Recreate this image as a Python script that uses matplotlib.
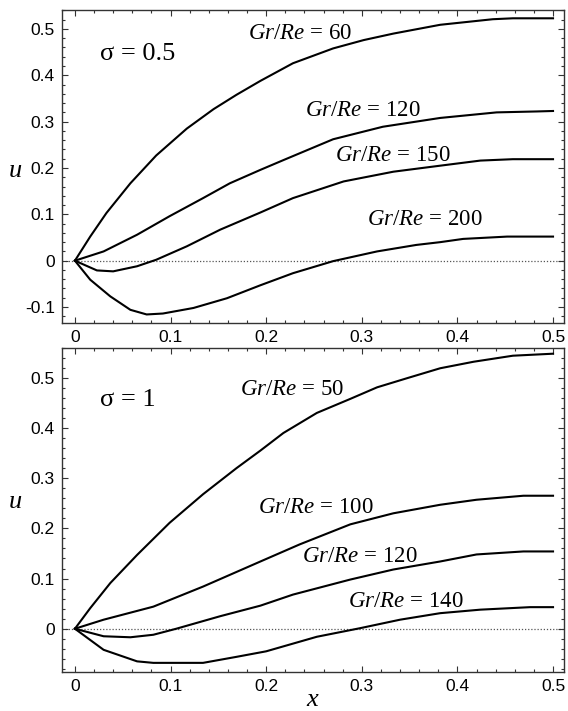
import matplotlib
matplotlib.use("Agg")
import matplotlib.pyplot as plt
from matplotlib.ticker import MultipleLocator, FuncFormatter

plt.rcParams["mathtext.fontset"] = "custom"
plt.rcParams["mathtext.rm"] = "Liberation Serif"
plt.rcParams["mathtext.it"] = "Liberation Serif:italic"
plt.rcParams["font.family"] = "Liberation Sans"

# --- sigma = 0.5 panel ---
x_a60 = [0, 0.016, 0.033, 0.058, 0.085, 0.117, 0.145, 0.169, 0.194, 0.228, 0.27, 0.302,
         0.333, 0.382, 0.437, 0.458, 0.5]
u_a60 = [0, 0.052, 0.103, 0.167, 0.227, 0.285, 0.327, 0.358, 0.388, 0.426, 0.458, 0.476,
         0.49, 0.509, 0.521, 0.523, 0.523]
x_a120 = [0, 0.03, 0.065, 0.099, 0.134, 0.162, 0.194, 0.218, 0.27, 0.322, 0.382, 0.441,
          0.483, 0.5]
u_a120 = [0, 0.02, 0.056, 0.096, 0.135, 0.167, 0.196, 0.217, 0.262, 0.289, 0.308, 0.32,
          0.322, 0.323]
x_a150 = [0, 0.023, 0.04, 0.065, 0.085, 0.117, 0.152, 0.194, 0.228, 0.281, 0.333, 0.382,
          0.424, 0.458, 0.5]
u_a150 = [0, -0.021, -0.023, -0.012, 0.002, 0.031, 0.067, 0.104, 0.135, 0.171, 0.192, 0.205,
          0.216, 0.219, 0.219]
x_a200 = [0, 0.016, 0.037, 0.058, 0.075, 0.092, 0.124, 0.159, 0.194, 0.228, 0.27, 0.316,
          0.357, 0.382, 0.406, 0.452, 0.5]
u_a200 = [0, -0.041, -0.077, -0.106, -0.116, -0.114, -0.102, -0.081, -0.053, -0.027, -0.001,
          0.02, 0.034, 0.04, 0.047, 0.052, 0.052]

# --- sigma = 1 panel ---
x_b50 = [0, 0.016, 0.037, 0.065, 0.099, 0.134, 0.169, 0.194, 0.218, 0.253, 0.288, 0.316,
         0.347, 0.382, 0.417, 0.458, 0.5]
u_b50 = [0, 0.041, 0.091, 0.147, 0.211, 0.268, 0.32, 0.355, 0.39, 0.43, 0.458, 0.481,
         0.499, 0.519, 0.532, 0.544, 0.548]
x_b100 = [0, 0.03, 0.082, 0.134, 0.194, 0.235, 0.288, 0.333, 0.382, 0.42, 0.469, 0.5]
u_b100 = [0, 0.018, 0.044, 0.084, 0.134, 0.168, 0.208, 0.23, 0.247, 0.257, 0.265, 0.265]
x_b120 = [0, 0.03, 0.058, 0.082, 0.106, 0.152, 0.194, 0.228, 0.288, 0.333, 0.382, 0.42,
          0.469, 0.5]
u_b120 = [0, -0.015, -0.017, -0.012, 0, 0.025, 0.046, 0.068, 0.098, 0.118, 0.134, 0.148,
          0.154, 0.154]
x_b140 = [0, 0.03, 0.065, 0.082, 0.099, 0.134, 0.169, 0.2, 0.253, 0.298, 0.34, 0.382,
          0.424, 0.476, 0.5]
u_b140 = [0, -0.042, -0.065, -0.068, -0.068, -0.068, -0.056, -0.045, -0.016, 0.001, 0.018,
          0.031, 0.038, 0.043, 0.043]

top_curves = [(x_a60, u_a60), (x_a120, u_a120), (x_a150, u_a150), (x_a200, u_a200)]
top_labels = ["60", "120", "150", "200"]
top_label_pos = [(0.181, 0.491), (0.241, 0.325), (0.272, 0.228), (0.305, 0.088)]

bot_curves = [(x_b50, u_b50), (x_b100, u_b100), (x_b120, u_b120), (x_b140, u_b140)]
bot_labels = ["50", "100", "120", "140"]
bot_label_pos = [(0.173, 0.476), (0.191, 0.241), (0.237, 0.143), (0.286, 0.054)]


def fmt(v, pos):
    if abs(v) < 1e-9:
        return "0"
    return f"{v:.1f}"


def style_axes(ax, ylim, ylab_y):
    ax.set_xlim(-0.0136, 0.5115)
    ax.set_ylim(*ylim)
    ax.xaxis.set_major_locator(MultipleLocator(0.1))
    ax.xaxis.set_minor_locator(MultipleLocator(0.02))
    ax.yaxis.set_major_locator(MultipleLocator(0.1))
    ax.yaxis.set_minor_locator(MultipleLocator(0.02))
    ax.xaxis.set_major_formatter(FuncFormatter(fmt))
    ax.yaxis.set_major_formatter(FuncFormatter(fmt))
    ax.tick_params(which="both", direction="in", top=True, right=True,
                   width=0.8, color="#333333", labelsize=12.5)
    ax.tick_params(which="major", length=4, pad=5)
    ax.tick_params(which="minor", length=2.5)
    for s in ax.spines.values():
        s.set_linewidth(1.0)
        s.set_color("#333333")
    ax.axhline(0, color="#555555", lw=0.9, ls=(0, (1, 1.5)), zorder=1)
    ax.set_ylabel(r"$u$", fontsize=19, rotation=0)
    ax.yaxis.set_label_coords(-0.094, ylab_y)


fig = plt.figure(figsize=(5.68, 7.11), dpi=100)
ax1 = fig.add_axes([0.109, 0.546, 0.884, 0.440])
ax2 = fig.add_axes([0.109, 0.055, 0.884, 0.456])

style_axes(ax1, (-0.134, 0.541), 0.45)
style_axes(ax2, (-0.086, 0.56), 0.49)

for (xs, us), lab, (lx, ly) in zip(top_curves, top_labels, top_label_pos):
    ax1.plot(xs, us, color="black", lw=1.5, zorder=3)
    ax1.text(lx, ly, rf"$Gr/Re$ = {lab}", fontsize=16.5, family="Liberation Serif",
             ha="left", va="center")

for (xs, us), lab, (lx, ly) in zip(bot_curves, bot_labels, bot_label_pos):
    ax2.plot(xs, us, color="black", lw=1.5, zorder=3)
    ax2.text(lx, ly, rf"$Gr/Re$ = {lab}", fontsize=16.5, family="Liberation Serif",
             ha="left", va="center")

ax1.text(0.026, 0.446, "σ = 0.5", fontsize=19, family="Liberation Serif",
         ha="left", va="center")
ax2.text(0.026, 0.456, "σ = 1", fontsize=19, family="Liberation Serif",
         ha="left", va="center")

ax2.set_xlabel(r"$x$", fontsize=19, labelpad=-5)

fig.savefig("out.png", dpi=100)
